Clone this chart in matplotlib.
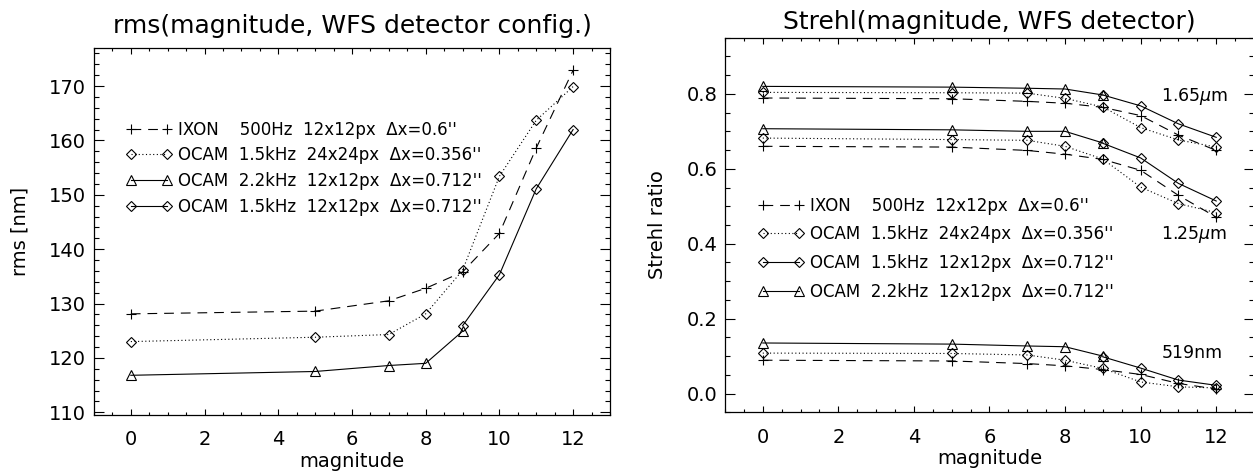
import matplotlib
matplotlib.use("Agg")
import matplotlib.pyplot as plt
from matplotlib.ticker import MultipleLocator, FormatStrFormatter

# ---- data ----
mag = [0, 5, 7, 8, 9, 10, 11, 12]
mag_tri = [0, 5, 7, 8, 9]
mag_dia = [9, 10, 11, 12]

# left panel: rms [nm]
rms_ixon = [128.1, 128.6, 130.5, 132.8, 135.8, 142.9, 158.6, 172.9]
rms_ocam_24 = [123.0, 123.8, 124.3, 128.1, 136.1, 153.4, 163.7, 169.9]
rms_ocam_22 = [116.8, 117.5, 118.6, 119.0, 124.9]
rms_ocam_15 = [125.9, 135.3, 151.1, 162.0]

# right panel: Strehl ratio, three wavelengths
bands = ["1.65$\\mu$m", "1.25$\\mu$m", "519nm"]
band_label_y = [0.794, 0.424, 0.107]

sr_ixon = [
    [0.789, 0.787, 0.780, 0.775, 0.764, 0.742, 0.690, 0.649],
    [0.660, 0.658, 0.649, 0.639, 0.625, 0.596, 0.529, 0.471],
    [0.089, 0.087, 0.080, 0.074, 0.064, 0.051, 0.027, 0.012],
]
sr_ocam_24 = [
    [0.804, 0.803, 0.802, 0.788, 0.765, 0.710, 0.677, 0.658],
    [0.682, 0.678, 0.676, 0.660, 0.626, 0.551, 0.507, 0.483],
    [0.108, 0.107, 0.103, 0.089, 0.067, 0.031, 0.018, 0.015],
]
sr_ocam_22 = [
    [0.820, 0.818, 0.815, 0.813, 0.797],
    [0.707, 0.704, 0.700, 0.700, 0.669],
    [0.135, 0.132, 0.127, 0.125, 0.100],
]
sr_ocam_15 = [
    [0.797, 0.768, 0.720, 0.684],
    [0.668, 0.629, 0.561, 0.514],
    [0.098, 0.068, 0.036, 0.022],
]

lbl_ixon = "IXON    500Hz  12x12px  \u0394x=0.6''"
lbl_24 = "OCAM  1.5kHz  24x24px  \u0394x=0.356''"
lbl_22 = "OCAM  2.2kHz  12x12px  \u0394x=0.712''"
lbl_15 = "OCAM  1.5kHz  12x12px  \u0394x=0.712''"

plt.rcParams["font.family"] = ["DejaVu Sans"]
plt.rcParams["lines.scale_dashes"] = False

LW = 0.8
st_ixon = dict(color="k", lw=LW, ls=(0, (7, 5)), marker="+", ms=7.5, mew=LW)
st_24 = dict(color="k", lw=LW, ls=(0, (0.8, 1.8)), marker="D", ms=5.5, mew=LW, mfc="none")
st_22 = dict(color="k", lw=LW, ls="-", marker="^", ms=7.5, mew=LW, mfc="none")
st_15 = dict(color="k", lw=LW, ls="-", marker="D", ms=5.5, mew=LW, mfc="none")


def style_axes(ax, ymajor, yminor):
    ax.set_xlim(-1, 13)
    ax.xaxis.set_major_locator(MultipleLocator(2))
    ax.xaxis.set_minor_locator(MultipleLocator(0.5))
    ax.yaxis.set_major_locator(MultipleLocator(ymajor))
    ax.yaxis.set_minor_locator(MultipleLocator(yminor))
    ax.tick_params(which="both", direction="in", top=True, right=True, width=0.8)
    ax.tick_params(axis="x", which="major", length=4.5, pad=11, labelsize=14)
    ax.tick_params(axis="x", which="minor", length=2.2)
    ax.tick_params(axis="y", which="major", length=7.5, pad=5.5, labelsize=14)
    ax.tick_params(axis="y", which="minor", length=3.7)
    for sp in ax.spines.values():
        sp.set_linewidth(0.9)
    ax.set_xlabel("magnitude", fontsize=14, labelpad=2)


fig = plt.figure(figsize=(12.53, 4.74), dpi=100)

# ---- left: rms ----
ax1 = fig.add_axes([0.0750, 0.1245, 0.4118, 0.7743])
h_ixon, = ax1.plot(mag, rms_ixon, label=lbl_ixon, **st_ixon)
h_24, = ax1.plot(mag, rms_ocam_24, label=lbl_24, **st_24)
h_22, = ax1.plot(mag_tri, rms_ocam_22, label=lbl_22, **st_22)
h_15, = ax1.plot(mag_dia, rms_ocam_15, label=lbl_15, **st_15)
ax1.set_ylim(109.5, 177.0)
style_axes(ax1, 10, 2)
ax1.set_ylabel("rms [nm]", fontsize=14, labelpad=14)
ax1.set_title("rms(magnitude, WFS detector config.)", fontsize=18, pad=10.5)
ax1.legend(handles=[h_ixon, h_24, h_22, h_15], loc="upper left",
           bbox_to_anchor=(0.0617, 0.802), frameon=False, fontsize=12,
           numpoints=2, handlelength=2.8, handletextpad=0.36,
           labelspacing=0.46, borderpad=0, borderaxespad=0)

# ---- right: Strehl ----
ax2 = fig.add_axes([0.5786, 0.1302, 0.4222, 0.7903])
for i in range(len(bands)):
    r_ixon, = ax2.plot(mag, sr_ixon[i], label=lbl_ixon, **st_ixon)
    r_24, = ax2.plot(mag, sr_ocam_24[i], label=lbl_24, **st_24)
    r_22, = ax2.plot(mag_tri, sr_ocam_22[i], label=lbl_22, **st_22)
    r_15, = ax2.plot(mag_dia, sr_ocam_15[i], label=lbl_15, **st_15)
    ax2.text(10.55, band_label_y[i], bands[i], fontsize=12.5, va="center", ha="left")
ax2.set_ylim(-0.05, 0.95)
style_axes(ax2, 0.2, 0.05)
ax2.yaxis.set_major_formatter(FormatStrFormatter("%.1f"))
ax2.set_ylabel("Strehl ratio", fontsize=14, labelpad=14)
ax2.set_title("Strehl(magnitude, WFS detector)", fontsize=18, pad=6.5)
ax2.legend(handles=[r_ixon, r_24, r_15, r_22], loc="upper left",
           bbox_to_anchor=(0.062, 0.576), frameon=False, fontsize=12,
           numpoints=2, handlelength=2.8, handletextpad=0.36,
           labelspacing=0.64, borderpad=0, borderaxespad=0)

fig.savefig("out.png", dpi=100)
